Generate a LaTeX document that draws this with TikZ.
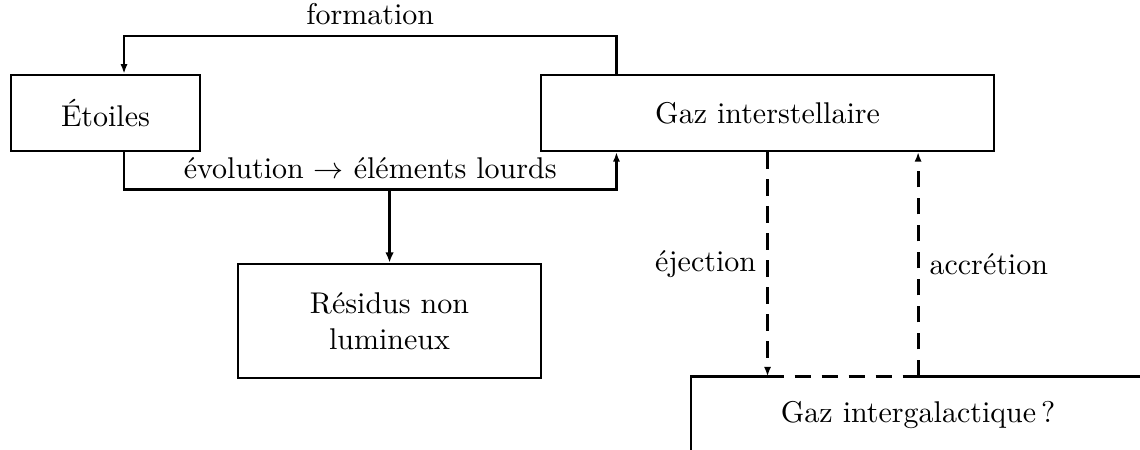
\documentclass[tikz,border=0pt]{standalone}
\usepackage{fontspec}
\usetikzlibrary{arrows.meta}

\begin{document}
\begin{tikzpicture}[
    phase/.style={draw=black, line width=0.8pt, minimum height=0.89cm, inner sep=3pt},
    outline/.style={draw=black, line width=0.8pt},
    link/.style={-{Latex[length=3.2pt, width=2.4pt]}, line width=0.8pt},
    fall/.style={-{Latex[length=3.4pt, width=2.8pt]}, line width=1.1pt},
    exchange/.style={line width=1pt, dash pattern=on 5.5pt off 3.5pt}
    ]
    % page frame, the intergalactic box runs off its edges
    \useasboundingbox (0,0) rectangle (13.357,5.272);
    \clip (0,0) rectangle (13.357,5.272);

    \node[phase, minimum width=2.214cm] (stars) at (1.236,3.949) {Étoiles};
    \node[phase, minimum width=5.308cm] (gas) at (8.993,3.949) {Gaz interstellaire};
    \node[phase, minimum width=3.55cm, minimum height=1.336cm, align=center] (rest) at (4.564,1.512) {Résidus non\\lumineux};
    \node[minimum width=5.308cm, minimum height=0.89cm] (igm) at (10.757,0.41) {Gaz intergalactique\,?};

    % formation / evolution loop
    \draw[link] ([xshift=-1.77cm]gas.north) -- ++(0,0.44) -| ([xshift=0.217cm]stars.north)
        node[pos=0.25, above] {formation};
    \draw[link] ([xshift=0.217cm]stars.south) -- ++(0,-0.44) coordinate (bend) -| ([xshift=-1.77cm]gas.south)
        node[pos=0.25, above] {évolution $\rightarrow$ éléments lourds};
    \draw[fall] (rest.north |- bend) -- (rest.north);

    % exchanges with the intergalactic gas
    \coordinate (drop) at (gas.south |- igm.north);
    \coordinate (rise) at (igm.north |- gas.south);
    \draw[link, exchange] (gas.south) -- (drop) node[midway, left] {éjection};
    \draw[link, exchange] (igm.north) -- (rise) node[midway, right] {accrétion};

    % box of the intergalactic gas, open where the flows meet it
    \draw[outline] (drop) -- (igm.north west) -- (igm.south west) -- (igm.south east) -- (igm.north east) -- (igm.north);
    \draw[exchange] (drop) -- (igm.north);
\end{tikzpicture}
\end{document}
